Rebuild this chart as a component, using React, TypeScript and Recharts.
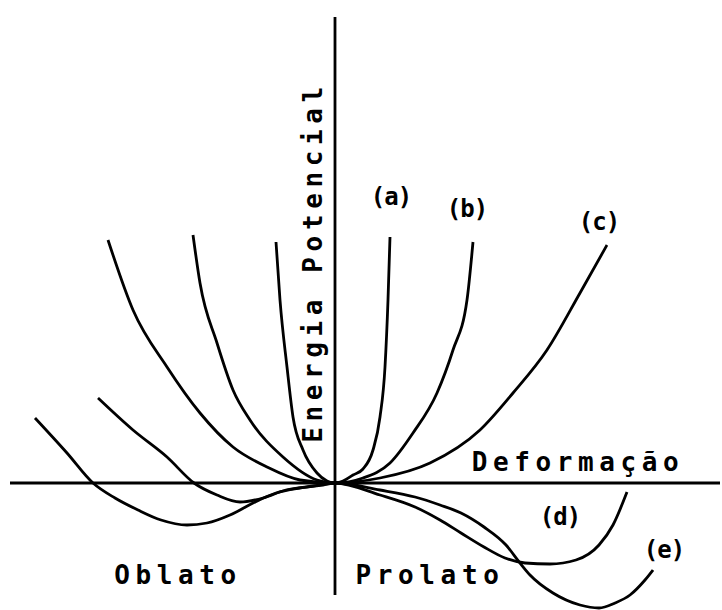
import { LineChart, Line, XAxis, YAxis, ReferenceLine, ReferenceDot } from "recharts";

// deformation (x) vs. potential energy (y), arbitrary units
const curveA = [
  { x: -0.59, y: 2.41 }, { x: -0.55, y: 1.83 }, { x: -0.48, y: 1.16 }, { x: -0.42, y: 0.66 },
  { x: -0.32, y: 0.33 }, { x: -0.18, y: 0.1 }, { x: -0.08, y: 0.02 }, { x: 0, y: 0 },
  { x: 0.08, y: 0.02 }, { x: 0.18, y: 0.08 }, { x: 0.28, y: 0.14 }, { x: 0.38, y: 0.33 },
  { x: 0.45, y: 0.66 }, { x: 0.5, y: 1.16 }, { x: 0.53, y: 1.83 }, { x: 0.55, y: 2.46 },
];
const curveB = [
  { x: -1.42, y: 2.48 }, { x: -1.35, y: 2.0 }, { x: -1.18, y: 1.4 }, { x: -1.02, y: 0.93 },
  { x: -0.85, y: 0.63 }, { x: -0.52, y: 0.26 }, { x: -0.18, y: 0.03 }, { x: 0, y: 0 },
  { x: 0.28, y: 0.05 }, { x: 0.55, y: 0.2 }, { x: 0.78, y: 0.5 }, { x: 1.02, y: 0.9 },
  { x: 1.18, y: 1.33 }, { x: 1.32, y: 1.83 }, { x: 1.38, y: 2.41 },
];
const curveC = [
  { x: -2.27, y: 2.43 }, { x: -2.02, y: 1.73 }, { x: -1.68, y: 1.16 }, { x: -1.35, y: 0.7 },
  { x: -1.02, y: 0.36 }, { x: -0.68, y: 0.16 }, { x: -0.35, y: 0.03 }, { x: 0, y: 0 },
  { x: 0.45, y: 0.05 }, { x: 0.95, y: 0.2 }, { x: 1.45, y: 0.53 }, { x: 1.78, y: 0.9 },
  { x: 2.12, y: 1.33 }, { x: 2.45, y: 1.9 }, { x: 2.72, y: 2.38 },
];
const curveD = [
  { x: -2.37, y: 0.85 }, { x: -2.02, y: 0.53 }, { x: -1.68, y: 0.26 }, { x: -1.41, y: 0 },
  { x: -1.18, y: -0.12 }, { x: -0.95, y: -0.19 }, { x: -0.72, y: -0.15 }, { x: -0.49, y: -0.07 },
  { x: -0.22, y: -0.03 }, { x: 0, y: 0 }, { x: 0.45, y: -0.12 }, { x: 0.8, y: -0.24 },
  { x: 1.05, y: -0.37 }, { x: 1.26, y: -0.5 }, { x: 1.49, y: -0.64 }, { x: 1.7, y: -0.75 },
  { x: 1.9, y: -0.8 }, { x: 2.15, y: -0.81 }, { x: 2.41, y: -0.77 }, { x: 2.64, y: -0.62 },
  { x: 2.78, y: -0.42 }, { x: 2.92, y: -0.09 },
];
const curveE = [
  { x: -3.0, y: 0.65 }, { x: -2.68, y: 0.3 }, { x: -2.42, y: 0 }, { x: -2.2, y: -0.15 },
  { x: -1.97, y: -0.27 }, { x: -1.74, y: -0.37 }, { x: -1.48, y: -0.42 }, { x: -1.28, y: -0.4 },
  { x: -1.05, y: -0.32 }, { x: -0.82, y: -0.2 }, { x: -0.59, y: -0.1 }, { x: -0.35, y: -0.05 },
  { x: -0.12, y: -0.02 }, { x: 0, y: 0 }, { x: 0.45, y: -0.07 }, { x: 0.8, y: -0.14 },
  { x: 1.05, y: -0.22 }, { x: 1.26, y: -0.3 }, { x: 1.49, y: -0.44 }, { x: 1.71, y: -0.62 },
  { x: 1.85, y: -0.8 }, { x: 1.95, y: -0.92 }, { x: 2.18, y: -1.1 }, { x: 2.45, y: -1.22 },
  { x: 2.64, y: -1.25 }, { x: 2.8, y: -1.2 }, { x: 2.95, y: -1.12 }, { x: 3.1, y: -0.97 },
  { x: 3.18, y: -0.87 },
];

const curves = [curveA, curveB, curveC, curveD, curveE];

const curveLabels = [
  { text: "(a)", x: 0.56, y: 2.86 },
  { text: "(b)", x: 1.32, y: 2.74 },
  { text: "(c)", x: 2.64, y: 2.61 },
  { text: "(d)", x: 2.25, y: -0.34 },
  { text: "(e)", x: 3.29, y: -0.67 },
];

const axisLabels = [
  { text: "Deformação", x: 2.43, y: 0.21, rotate: 0 },
  { text: "Oblato", x: -1.57, y: -0.92, rotate: 0 },
  { text: "Prolato", x: 0.95, y: -0.92, rotate: 0 },
  { text: "Energia Potencial", x: -0.22, y: 2.21, rotate: -90 },
];

const FONT = "'DejaVu Sans Mono', monospace";

export default function App() {
  return (
    <div style={{ position: "absolute", left: 0, top: 0, background: "#fff" }}>
      <LineChart width={722} height={610} margin={{ top: 0, right: 0, bottom: 0, left: 0 }}>
        <XAxis type="number" dataKey="x" domain={[-3.35, 3.87]} hide />
        <YAxis type="number" dataKey="y" domain={[-1.27, 4.83]} hide />
        <ReferenceLine
          segment={[{ x: -3.25, y: 0 }, { x: 3.85, y: 0 }]}
          stroke="#000"
          strokeWidth={2.8}
        />
        <ReferenceLine
          segment={[{ x: 0, y: -1.12 }, { x: 0, y: 4.66 }]}
          stroke="#000"
          strokeWidth={2.8}
        />
        {curves.map((c, i) => (
          <Line
            key={i}
            data={c}
            dataKey="y"
            type="monotone"
            stroke="#000"
            strokeWidth={2.8}
            dot={false}
            activeDot={false}
            isAnimationActive={false}
          />
        ))}
        {curveLabels.map((l) => (
          <ReferenceDot
            key={l.text}
            x={l.x}
            y={l.y}
            r={0}
            shape={(p: any) => (
              <text
                x={p.cx}
                y={p.cy}
                textAnchor="middle"
                dominantBaseline="central"
                fontFamily={FONT}
                fontWeight="bold"
                fontSize={24}
                letterSpacing={-1}
                fill="#000"
              >
                {l.text}
              </text>
            )}
          />
        ))}
        {axisLabels.map((l) => (
          <ReferenceDot
            key={l.text}
            x={l.x}
            y={l.y}
            r={0}
            shape={(p: any) => (
              <text
                x={p.cx}
                y={p.cy}
                transform={l.rotate ? `rotate(${l.rotate} ${p.cx} ${p.cy})` : undefined}
                textAnchor="middle"
                dominantBaseline="central"
                fontFamily={FONT}
                fontWeight="bold"
                fontSize={26}
                letterSpacing={5.6}
                fill="#000"
              >
                {l.text}
              </text>
            )}
          />
        ))}
      </LineChart>
    </div>
  );
}
